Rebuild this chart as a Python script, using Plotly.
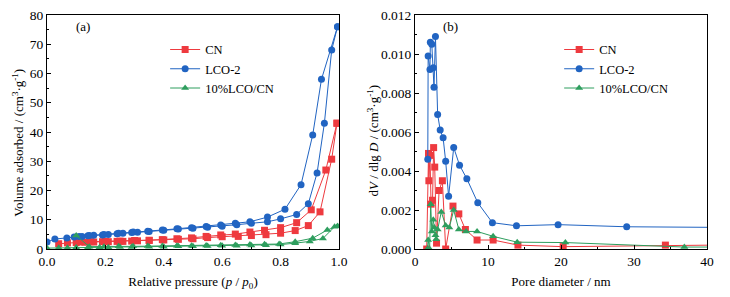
import plotly.graph_objects as go

# ---------------- data: (a) N2 isotherms ----------------
cn_p_ads = [0.04, 0.07, 0.10, 0.13, 0.16, 0.19, 0.21, 0.24, 0.26, 0.29, 0.31, 0.35, 0.40, 0.45, 0.50,
            0.55, 0.60, 0.655, 0.70, 0.75, 0.80, 0.85, 0.895, 0.935, 0.975, 0.993]
cn_v_ads = [1.8, 2.1, 2.2, 2.3, 2.4, 2.5, 2.5, 2.6, 2.6, 2.7, 2.8, 2.9, 3.1, 3.3, 3.5,
            3.9, 4.2, 4.3, 4.6, 4.9, 5.4, 6.3, 8.0, 12.7, 30.7, 43.0]
cn_p_des = [0.993, 0.955, 0.905, 0.855, 0.80, 0.745, 0.695, 0.645, 0.595, 0.545, 0.495, 0.445,
            0.395, 0.35, 0.30, 0.25, 0.20, 0.15, 0.11]
cn_v_des = [43.0, 27.0, 13.4, 9.0, 7.3, 6.4, 5.8, 5.1, 4.8, 4.3, 3.8, 3.5,
            3.2, 3.0, 2.9, 2.7, 2.6, 2.5, 2.4]

lco_p_ads = [0.0, 0.027, 0.068, 0.093, 0.12, 0.14, 0.16, 0.19, 0.21, 0.24, 0.26, 0.29, 0.31, 0.35,
             0.40, 0.45, 0.50, 0.55, 0.60, 0.65, 0.70, 0.755, 0.80, 0.855, 0.895, 0.925, 0.95, 0.975, 0.995]
lco_v_ads = [2.4, 3.4, 3.8, 4.1, 4.3, 4.5, 4.7, 4.8, 5.0, 5.2, 5.4, 5.6, 5.7, 6.0,
             6.4, 6.8, 7.1, 7.4, 7.8, 8.3, 8.8, 9.3, 10.3, 11.8, 15.5, 26.0, 43.0, 68.0, 76.0]
lco_p_des = [0.995, 0.94, 0.91, 0.87, 0.815, 0.755, 0.695, 0.645, 0.595, 0.545, 0.495, 0.445,
             0.395, 0.345, 0.295, 0.245, 0.195, 0.145, 0.11]
lco_v_des = [76.0, 58.0, 39.0, 22.0, 13.6, 10.9, 9.3, 8.8, 8.2, 7.7, 7.3, 6.9,
             6.5, 6.1, 5.8, 5.4, 5.0, 4.6, 4.3]

mix_p_ads = [0.0, 0.04, 0.07, 0.10, 0.14, 0.18, 0.21, 0.25, 0.29, 0.35, 0.40, 0.45, 0.50, 0.55,
             0.60, 0.65, 0.70, 0.75, 0.80, 0.85, 0.90, 0.945, 0.985, 0.995]
mix_v_ads = [0.3, 0.4, 0.4, 0.5, 0.5, 0.6, 0.6, 0.7, 0.7, 0.8, 0.8, 0.9, 0.9, 1.0,
             1.1, 1.1, 1.2, 1.3, 1.5, 2.0, 2.6, 3.6, 7.6, 7.8]
mix_p_des = [0.995, 0.96, 0.91, 0.85, 0.795, 0.745, 0.695, 0.645, 0.595, 0.545, 0.495, 0.445,
             0.395, 0.345, 0.295, 0.245, 0.195, 0.145, 0.10]
mix_v_des = [7.8, 6.5, 3.7, 2.5, 1.7, 1.6, 1.5, 1.4, 1.3, 1.2, 1.1, 1.1,
             1.0, 1.0, 0.9, 0.9, 0.8, 0.8, 4.6]

# ---------------- data: (b) pore size distribution ----------------
cn_d = [1.6, 1.85, 1.9, 2.05, 2.2, 2.4, 2.55, 2.7, 2.95, 3.3, 3.75, 4.2, 5.2, 6.0, 6.9, 8.5,
        10.7, 14.1, 20.3, 34.3, 41.0]
cn_dv = [0.0, 0.0049, 0.0035, 0.0048, 0.0023, 0.0025, 0.0052, 0.0042, 0.0003, 0.0030, 0.0035, 0.0,
         0.0022, 0.0018, 0.0010, 0.00046, 0.00046, 0.0002, 0.00012, 0.0002, 0.0002]

lco_d = [1.75, 1.8, 2.05, 2.1, 2.3, 2.5, 2.6, 2.8, 3.1, 3.45, 3.85, 4.2, 4.6, 5.3, 6.1, 7.1,
         8.6, 10.6, 13.9, 19.6, 29.0, 41.0]
lco_dv = [0.0046, 0.0099, 0.0092, 0.0106, 0.0105, 0.0093, 0.0083, 0.0109, 0.0069, 0.0061, 0.0057,
          0.0045, 0.0027, 0.0052, 0.0043, 0.0036, 0.00237, 0.00135, 0.00119, 0.00125, 0.00114, 0.00111]

mix_d = [1.7, 1.8, 2.0, 2.15, 2.3, 2.5, 2.65, 2.8, 2.9, 3.1, 3.6, 4.2, 4.7, 5.3, 6.0, 7.0, 8.5,
         10.7, 14.0, 20.6, 36.9, 41.0]
mix_dv = [0.0, 0.00046, 0.0, 0.0023, 0.0009, 0.0015, 0.0011, 0.0007, 0.0005, 0.0010, 0.0019,
          0.0012, 0.0011, 0.0020, 0.0010, 0.0009, 0.0009, 0.00065, 0.00035, 0.00033, 0.0001, 0.0001]

names = ["CN", "LCO-2", "10%LCO/CN"]
colors = ["#EE3A3F", "#2164C2", "#2E9E5E"]
symbols = ["square", "circle", "triangle-up"]

FONT = "Liberation Serif"

fig = go.Figure()

iso = [(cn_p_ads + cn_p_des, cn_v_ads + cn_v_des),
       (lco_p_ads + lco_p_des, lco_v_ads + lco_v_des),
       (mix_p_ads + mix_p_des, mix_v_ads + mix_v_des)]
psd = [(cn_d, cn_dv), (lco_d, lco_dv), (mix_d, mix_dv)]

for i in range(3):
    fig.add_trace(go.Scatter(
        x=iso[i][0], y=iso[i][1], name=names[i], mode="lines+markers",
        line=dict(color=colors[i], width=1),
        marker=dict(symbol=symbols[i], size=7, color=colors[i]),
        xaxis="x", yaxis="y", legend="legend"))
for i in range(3):
    fig.add_trace(go.Scatter(
        x=psd[i][0], y=psd[i][1], name=names[i], mode="lines+markers",
        line=dict(color=colors[i], width=1),
        marker=dict(symbol=symbols[i], size=7, color=colors[i]),
        xaxis="x2", yaxis="y2", legend="legend2"))

axis_common = dict(showline=True, linecolor="black", linewidth=1, mirror=True,
                   ticks="inside", ticklen=4, tickcolor="black", showgrid=False, zeroline=False,
                   automargin=False, ticklabeloverflow="allow",
                   tickfont=dict(family=FONT, size=13.5, color="black"))

TF = dict(family=FONT, size=13, color="black")

fig.update_layout(
    width=730, height=297,
    margin=dict(l=39, r=31, t=7, b=56),
    paper_bgcolor="white", plot_bgcolor="white",
    font=dict(family=FONT, size=12, color="black"),
    xaxis=dict(domain=[0, 0.4424], range=[0, 1], dtick=0.2, tickformat=".1f",
               minor=dict(ticks="inside", ticklen=2, dtick=0.1, tickcolor="black"),
               title=dict(text="Relative pressure (<i>p</i> / <i>p</i><sub>0</sub>)",
                          font=TF, standoff=8),
               anchor="y", **axis_common),
    yaxis=dict(domain=[0, 1], range=[0, 80], dtick=10,
               minor=dict(ticks="inside", ticklen=2, dtick=5, tickcolor="black"),
               anchor="x", **axis_common),
    xaxis2=dict(domain=[0.5576, 1], range=[0, 40], dtick=10,
                minor=dict(ticks="inside", ticklen=2, dtick=5, tickcolor="black"),
                title=dict(text="Pore diameter / nm", font=TF, standoff=8),
                anchor="y2", **axis_common),
    yaxis2=dict(domain=[0, 1], range=[0, 0.012], dtick=0.002, tickformat=".3f",
                minor=dict(ticks="inside", ticklen=2, dtick=0.001, tickcolor="black"),
                anchor="x2", **axis_common),
    legend=dict(x=0.179, y=0.915, xanchor="left", yanchor="top", bgcolor="rgba(0,0,0,0)",
                font=dict(family=FONT, size=12.5), tracegroupgap=0, itemwidth=30),
    legend2=dict(x=0.776, y=0.915, xanchor="left", yanchor="top", bgcolor="rgba(0,0,0,0)",
                 font=dict(family=FONT, size=12.5), tracegroupgap=0, itemwidth=30),
    showlegend=True,
    annotations=[
        dict(text="(a)", x=0.041, y=0.949, xref="paper", yref="paper", showarrow=False,
             font=dict(family=FONT, size=13), xanchor="left", yanchor="middle"),
        dict(text="(b)", x=0.597, y=0.949, xref="paper", yref="paper", showarrow=False,
             font=dict(family=FONT, size=13), xanchor="left", yanchor="middle"),
        dict(text="Volume adsorbed / (cm<sup>3</sup>·g<sup>-1</sup>)", textangle=-90,
             x=-0.045, y=0.455, xref="paper", yref="paper", showarrow=False,
             font=TF, xanchor="center", yanchor="middle"),
        dict(text="d<i>V</i> / dlg <i>D</i> / (cm<sup>3</sup>·g<sup>-1</sup>)", textangle=-90,
             x=0.494, y=0.46, xref="paper", yref="paper", showarrow=False,
             font=TF, xanchor="center", yanchor="middle"),
    ],
)

fig.write_html("out.html")
